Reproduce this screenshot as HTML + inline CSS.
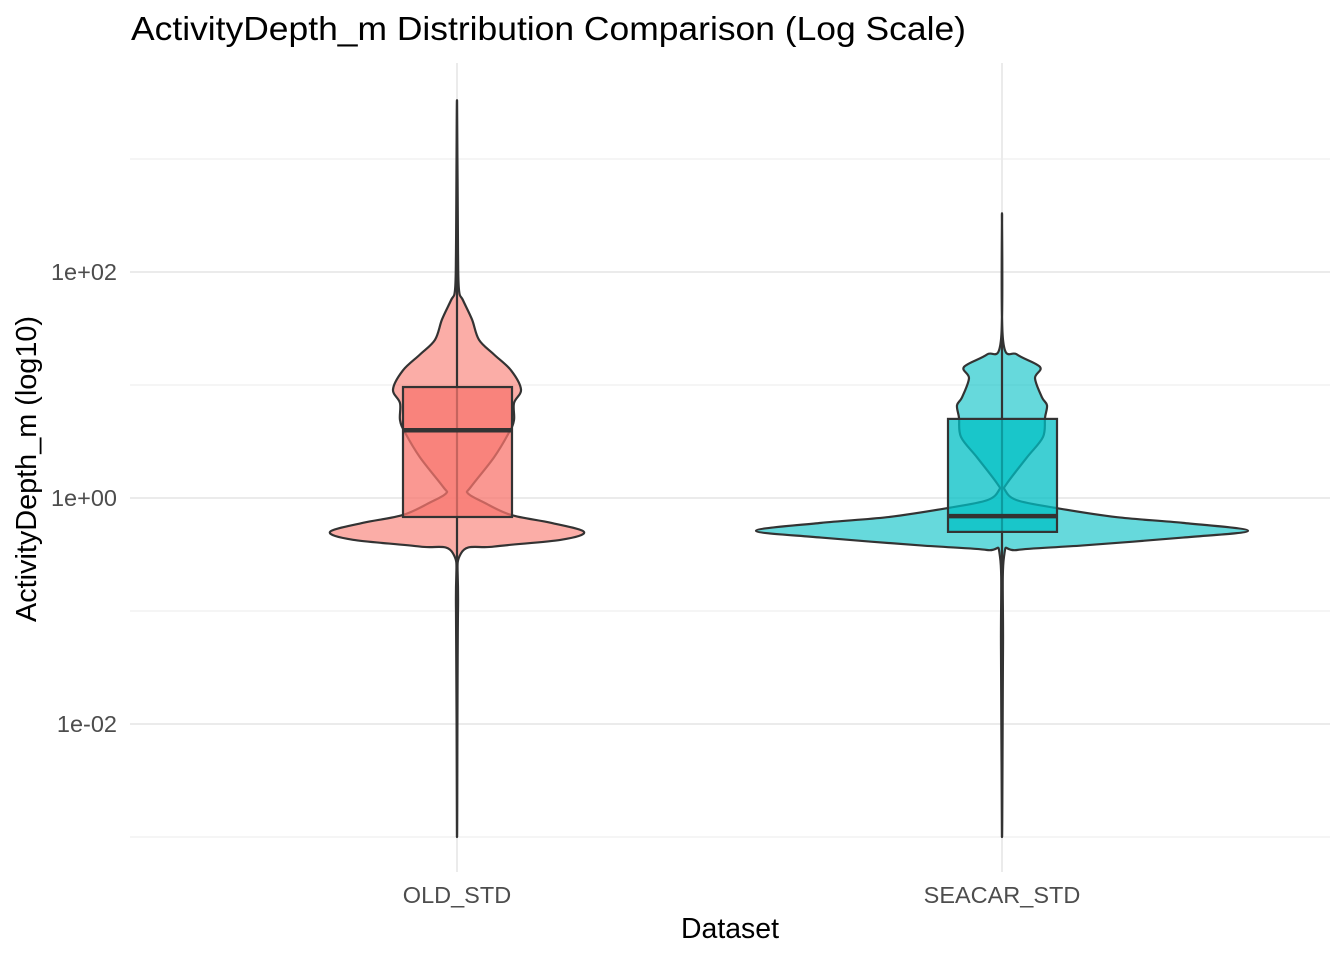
<!DOCTYPE html>
<html><head><meta charset="utf-8"><style>
body{margin:0;background:#fff;}
svg text{font-family:"Liberation Sans",sans-serif;}
</style></head><body>
<svg id="chart" width="1344" height="960" xmlns="http://www.w3.org/2000/svg">
<text x="131" y="40" font-size="33" textLength="835" lengthAdjust="spacingAndGlyphs" fill="#000">ActivityDepth_m Distribution Comparison (Log Scale)</text>
<g id="grid"></g>
<g id="marks"></g>
<g id="axes"></g>
<text x="681" y="938" font-size="28.5" textLength="98" lengthAdjust="spacingAndGlyphs" fill="#000">Dataset</text>
<text transform="translate(36,622) rotate(-90)" font-size="29" textLength="306" lengthAdjust="spacingAndGlyphs" fill="#000">ActivityDepth_m (log10)</text>
</svg>
<script>
const categories = ["OLD_STD", "SEACAR_STD"];
const colors = ["#F8766D", "#00BFC4"];
const majorTicks = [2, 0, -2];
const majorLabels = ["1e+02", "1e+00", "1e-02"];
const minorTicks = [3, 1, -1, -3];
const oldLog = [3.52,2.19,1.84,1.75,1.58,1.40,1.27,1.13,0.96,0.84,0.69,0.58,0.36,0.10,0.04,-0.04,-0.15,-0.22,-0.30,-0.37,-0.43,-0.49,-0.99,-3.0];
const oldDens = [0,1,2,6,15,22,37,54,64,57,57,52,37,14,11,27,54,94,127,104,37,4,1,0];
const seaLog = [2.52,1.40,1.27,1.16,1.06,0.89,0.82,0.71,0.54,0.36,0.13,0.07,-0.02,-0.09,-0.17,-0.22,-0.29,-0.35,-0.42,-0.46,-0.52,-1.34,-3.0];
const seaDens = [0,1,15,38,33,40,45,43,41,25,5,3,15,55,115,181,246,181,81,15,2,1,0];
const q1 = [-0.168, -0.30];
const med = [0.60, -0.16];
const q3 = [0.982, 0.70];
const whiskLo = [-3.0, -3.0];
const whiskHi = [3.52, 2.52];

const NS="http://www.w3.org/2000/svg";
const y = v => 498 - 113*v;
const x = i => 457 + i*545;
const w = d => d;
function el(tag, attrs, parent){const e=document.createElementNS(NS,tag);for(const k in attrs)e.setAttribute(k,attrs[k]);parent.appendChild(e);return e;}
const grid=document.getElementById('grid'), marks=document.getElementById('marks'), axes=document.getElementById('axes');
minorTicks.forEach(t=>{const l=el('line',{x1:130,x2:1330,y1:y(t),y2:y(t),stroke:'#ebebeb','stroke-width':1},grid);

});
majorTicks.forEach((t,i)=>{const l=el('line',{x1:130,x2:1330,y1:y(t),y2:y(t),stroke:'#ebebeb','stroke-width':2},grid);


const tx=el('text',{x:117,y:y(t)+8,'font-size':23.5,'text-anchor':'end',fill:'#4d4d4d'},axes);tx.textContent=majorLabels[i];

});
categories.forEach((c,i)=>{const l=el('line',{x1:x(i),x2:x(i),y1:63,y2:872,stroke:'#ebebeb','stroke-width':2},grid);


const tx=el('text',{x:x(i),y:903,'font-size':23.5,'text-anchor':'middle',fill:'#4d4d4d'},axes);tx.textContent=c;

});
[[oldLog,oldDens],[seaLog,seaDens]].forEach(([L,D],i)=>{
  const cx=x(i);
  let pts=L.map((v,k)=>[cx+w(D[k]),y(v)]);
  let left=L.map((v,k)=>[cx-w(D[k]),y(v)]).slice(1,-1).reverse();
  const all=pts.concat(left);
  const n=all.length;
  let d='M'+all[0][0]+','+all[0][1];
  for(let k=0;k<n;k++){const p0=all[(k-1+n)%n],p1=all[k],p2=all[(k+1)%n],p3=all[(k+2)%n];
    d+=` C${p1[0]+(p2[0]-p0[0])/6},${p1[1]+(p2[1]-p0[1])/6} ${p2[0]-(p3[0]-p1[0])/6},${p2[1]-(p3[1]-p1[1])/6} ${p2[0]},${p2[1]}`;}
  d+='Z';
  const v=el('path',{d:d,fill:colors[i],'fill-opacity':0.6,stroke:'#333','stroke-width':2.2,'stroke-linejoin':'round'},marks);
  
  
  const wl=el('line',{x1:cx,x2:cx,y1:y(whiskHi[i]),y2:y(whiskLo[i]),stroke:'#333','stroke-width':2.2},marks);
  
  
  const b=el('rect',{x:cx-54,y:y(q3[i]),width:109,height:y(q1[i])-y(q3[i]),fill:colors[i],'fill-opacity':0.75,stroke:'#333','stroke-width':2.2},marks);
  
  
  const m=el('line',{x1:cx-54,x2:cx+55,y1:y(med[i]),y2:y(med[i]),stroke:'#333','stroke-width':4.5},marks);
  
  
});
</script>
</body></html>
